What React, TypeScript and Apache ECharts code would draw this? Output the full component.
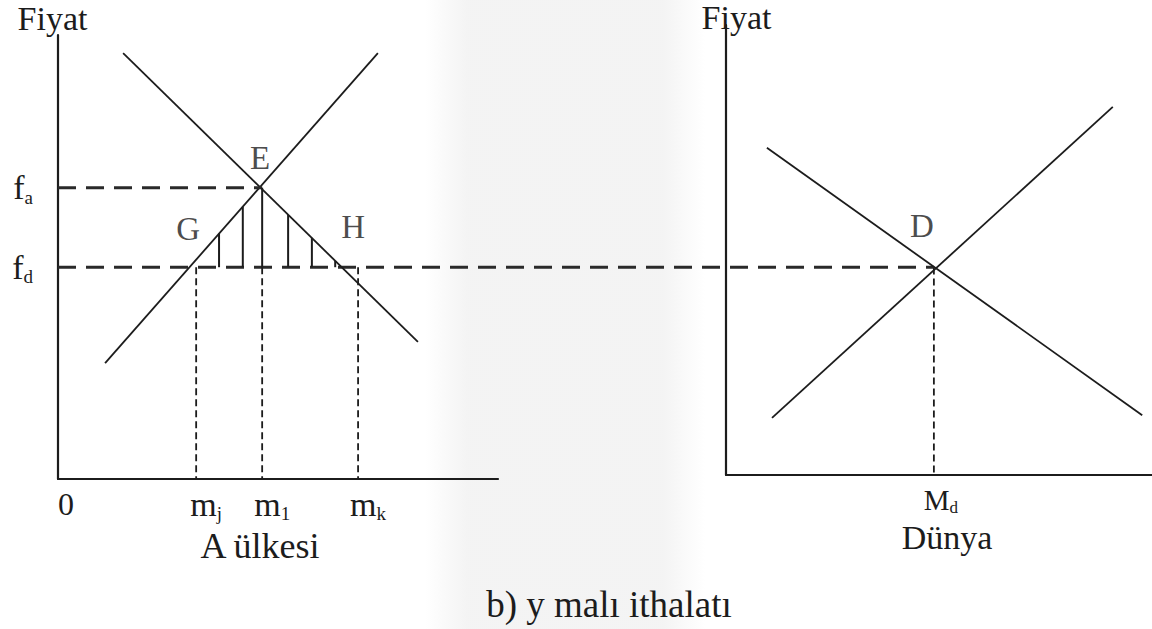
import React, { useEffect, useRef } from 'react';
import * as echarts from 'echarts';

const FONT = 'Liberation Serif, Times New Roman, serif';
const INK = '#1c1c1c';

// ---- Left panel: A ülkesi ----
const leftDemand = [[14.8, 95.9], [81.8, 30.9]];
const leftSupply = [[10.7, 26.1], [72.7, 95.9]];
const pointE = [46.4, 65.6];
const priceFa = 65.6;
const priceFd = 47.7;
const qMj = 31.4;
const qM1 = 46.4;
const qMk = 68.2;
const shadeX = [36.6, 42.0, 52.3, 57.7, 63.0];
const shadeTop = [55.3, 61.3, 59.5, 54.3, 49.1];
const leftXTicks = [0, qMj, qM1, qMk];
const leftXTickMain = ['0', 'm', 'm', 'm'];
const leftXTickSub = ['', 'j', '1', 'k'];
const leftYTicks = [priceFd, priceFa];
const leftYTickSub = ['d', 'a'];

// ---- Right panel: Dünya ----
const worldDemand = [[9.6, 72.7], [97.7, 13.3]];
const worldSupply = [[10.8, 12.7], [90.8, 81.8]];
const pointD = [48.8, 46.1];
const qMd = 48.8;
const rightXTicks = [qMd];
const rightXTickSub = ['d'];

// point letters
const leftLetters = ['E', 'G', 'H'];
const leftLetterAnchors = [pointE, [qMj, priceFd], [qMk, priceFd]];
const rightLetters = ['D'];
const rightLetterAnchors = [pointD];

const labelOffsets: Record<string, number[]> = { E: [-2, -30], G: [-8, -38], H: [-5, -40], D: [-12, -42] };

function findIdx(arr: number[], v: number) {
  return arr.findIndex((t) => Math.abs(t - v) < 1e-6);
}

export default function App() {
  const ref = useRef<HTMLDivElement>(null);
  useEffect(() => {
    const chart = echarts.init(ref.current!, null, { renderer: 'svg' });
    const line = (data: any[], gi: number, style: any = {}) => ({
      type: 'line',
      data,
      xAxisIndex: gi,
      yAxisIndex: gi,
      symbol: 'none',
      showSymbol: false,
      silent: true,
      lineStyle: { color: INK, width: 1.8, ...style },
      z: 3,
    });
    const textBase = { fontFamily: FONT, color: INK };
    const axisCommon = {
      type: 'value',
      min: 0,
      max: 100,
      axisTick: { show: false },
      splitLine: { show: false },
      axisLine: { show: true, onZero: false, lineStyle: { color: INK, width: 2.2 } },
    };
    const letterLabel = { show: true, position: 'inside', formatter: (p: any) => p.name, fontSize: 33, ...textBase };
    const series: any[] = [
      line(leftDemand, 0),
      line(leftSupply, 0),
      line([[0, priceFa], pointE], 0, { type: [18, 10], width: 3, color: '#2a2a2a' }),
      line([[qM1, priceFa], [qM1, priceFd]], 0, { width: 2 }),
      line([[qMj, priceFd], [qMj, 0]], 0, { type: [7, 4], width: 1.8 }),
      line([[qM1, priceFd], [qM1, 0]], 0, { type: [7, 4], width: 1.8 }),
      line([[qMk, priceFd], [qMk, 0]], 0, { type: [7, 4], width: 1.8 }),
      ...shadeX.map((x, i) => line([[x, priceFd], [x, shadeTop[i]]], 0, { width: 2 })),
      line(worldDemand, 1),
      line(worldSupply, 1),
      line([[qMd, pointD[1]], [qMd, 0]], 1, { type: [7, 4], width: 1.8 }),
      {
        type: 'scatter',
        xAxisIndex: 0,
        yAxisIndex: 0,
        symbolSize: 0,
        silent: true,
        data: leftLetterAnchors.map((p, i) => ({ value: p, name: leftLetters[i], label: { offset: labelOffsets[leftLetters[i]] } })),
        label: letterLabel,
      },
      {
        type: 'scatter',
        xAxisIndex: 1,
        yAxisIndex: 1,
        symbolSize: 0,
        silent: true,
        data: rightLetterAnchors.map((p, i) => ({ value: p, name: rightLetters[i], label: { offset: labelOffsets[rightLetters[i]] } })),
        label: letterLabel,
      },
    ];
    const subRich = {
      mp: { fontSize: 34, lineHeight: 38, padding: [0, 0, 0, 20], ...textBase },
      z: { fontSize: 32, lineHeight: 38, padding: [0, 0, 0, 16], ...textBase },
      s: { fontSize: 19, lineHeight: 10, verticalAlign: 'bottom', ...textBase },
    };
    const option: any = {
      animation: false,
      backgroundColor: '#ffffff',
      title: {
        text: 'b) y malı ithalatı',
        left: 604,
        top: 581,
        textAlign: 'center',
        textStyle: { fontSize: 37, fontWeight: 'normal', ...textBase },
      },
      grid: [
        { left: 58, top: 35, width: 440, height: 444 },
        { left: 726, top: 25, width: 426, height: 450 },
      ],
      xAxis: [
        {
          ...axisCommon,
          gridIndex: 0,
          axisLabel: {
            customValues: leftXTicks,
            margin: 6,
            formatter: (v: number) => {
              const i = findIdx(leftXTicks, v);
              if (i < 0) return '';
              if (!leftXTickSub[i]) return '{z|' + leftXTickMain[i] + '}';
              return '{mp|' + leftXTickMain[i] + '}{s|' + leftXTickSub[i] + '}';
            },
            rich: subRich,
          },
          name: 'A ülkesi',
          nameLocation: 'middle',
          nameGap: 42,
          nameTextStyle: { fontSize: 36, padding: [0, 36, 0, 0], ...textBase },
        },
        {
          ...axisCommon,
          gridIndex: 1,
          axisLabel: {
            customValues: rightXTicks,
            margin: 9,
            formatter: (v: number) => {
              const i = findIdx(rightXTicks, v);
              if (i < 0) return '';
              return '{M|M}{s|' + rightXTickSub[i] + '}';
            },
            rich: {
              M: { fontSize: 29, lineHeight: 32, padding: [0, 0, 0, 14], ...textBase },
              s: { fontSize: 17, lineHeight: 18, verticalAlign: 'bottom', ...textBase },
            },
          },
          name: 'Dünya',
          nameLocation: 'middle',
          nameGap: 38,
          nameTextStyle: { fontSize: 34, padding: [0, 0, 0, 16], ...textBase },
        },
      ],
      yAxis: [
        {
          ...axisCommon,
          gridIndex: 0,
          axisLabel: {
            customValues: leftYTicks,
            margin: 25,
            formatter: (v: number) => {
              const i = findIdx(leftYTicks, v);
              if (i < 0) return '';
              return '{m|f}{s|' + leftYTickSub[i] + '}';
            },
            rich: {
              m: { fontSize: 34, lineHeight: 38, ...textBase },
              s: { fontSize: 19, lineHeight: 10, verticalAlign: 'bottom', ...textBase },
            },
          },
          name: 'Fiyat',
          nameLocation: 'end',
          nameGap: 1,
          nameTextStyle: { fontSize: 34, lineHeight: 32, padding: [0, 11, 0, 0], ...textBase },
        },
        {
          ...axisCommon,
          gridIndex: 1,
          axisLabel: { show: false },
          name: 'Fiyat',
          nameLocation: 'end',
          nameGap: -8,
          nameTextStyle: { fontSize: 34, lineHeight: 32, padding: [0, 0, 0, 21], ...textBase },
        },
      ],
      series,
    };
    chart.setOption(option);
    const p0 = chart.convertToPixel({ gridIndex: 0 }, [0, priceFd]) as number[];
    const p1 = chart.convertToPixel({ gridIndex: 1 }, pointD) as number[];
    chart.setOption({
      graphic: [
        {
          type: 'rect',
          silent: true,
          z: -1,
          shape: { x: 425, y: 0, width: 280, height: 629 },
          style: {
            fill: new echarts.graphic.LinearGradient(0, 0, 1, 0, [
              { offset: 0, color: 'rgba(240,240,240,0)' },
              { offset: 0.15, color: 'rgba(240,240,240,0.75)' },
              { offset: 0.85, color: 'rgba(240,240,240,0.75)' },
              { offset: 1, color: 'rgba(240,240,240,0)' },
            ]),
          },
        },
        {
          type: 'line',
          silent: true,
          z: 3,
          shape: { x1: p0[0], y1: p0[1], x2: p1[0], y2: p0[1] },
          style: { stroke: '#2a2a2a', lineWidth: 3, lineDash: [18, 10] },
        },
      ],
    });
    return () => chart.dispose();
  }, []);
  return (
    <div
      ref={ref}
      style={{ position: 'fixed', left: 0, top: 0, width: 1152, height: 629, background: '#fff' }}
    />
  );
}
